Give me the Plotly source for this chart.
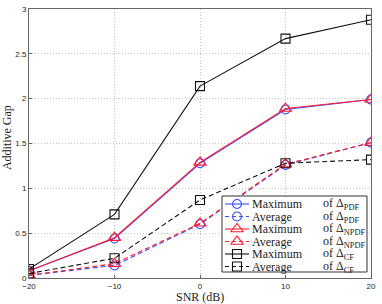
import plotly.graph_objects as go

snr = [-20, -10, 0, 10, 20]
max_pdf = [0.08, 0.44, 1.28, 1.88, 1.99]
avg_pdf = [0.03, 0.14, 0.60, 1.26, 1.51]
max_npdf = [0.08, 0.45, 1.29, 1.89, 1.99]
avg_npdf = [0.03, 0.16, 0.61, 1.27, 1.51]
max_cf = [0.10, 0.71, 2.14, 2.67, 2.88]
avg_cf = [0.05, 0.22, 0.87, 1.28, 1.32]

labels_head = ["Maximum", "Average", "Maximum", "Average", "Maximum", "Average"]
labels_tail = ["of Δ<sub>PDF</sub>", "of Δ<sub>PDF</sub>", "of Δ<sub>NPDF</sub>",
               "of Δ<sub>NPDF</sub>", "of Δ<sub>CF</sub>", "of Δ<sub>CF</sub>"]

BLUE, RED, BLACK = "#3b4cff", "#ff1a2e", "#111111"
DASH = "5px,3px"
series = [
    (max_pdf, BLUE, "circle-open", "solid", 9),
    (avg_pdf, BLUE, "circle-open", DASH, 9),
    (max_npdf, RED, "triangle-up-open", "solid", 11),
    (avg_npdf, RED, "triangle-up-open", DASH, 11),
    (max_cf, BLACK, "square-open", "solid", 9),
    (avg_cf, BLACK, "square-open", DASH, 9),
]

fig = go.Figure()
for i, (ys, col, sym, dash, sz) in enumerate(series):
    fig.add_trace(go.Scatter(
        x=snr, y=ys, name=labels_head[i] + " " + labels_tail[i], mode="lines+markers",
        line=dict(color=col, width=1.1, dash=dash),
        marker=dict(symbol=sym, size=sz, color=col, line=dict(width=1.1, color=col)),
        showlegend=False,
    ))

# custom legend drawn in pixel-like overlay axes
L, R, T, B = 29, 371, 9, 278
bx0, bx1, by0, by1 = 222, 367, 196, 272
fig.add_trace(go.Scatter(
    x=[bx0, bx1, bx1, bx0, bx0], y=[by0, by0, by1, by1, by0],
    xaxis="x2", yaxis="y2", mode="lines", fill="toself", fillcolor="white",
    line=dict(color="#333", width=1), showlegend=False, hoverinfo="skip",
))
row_y = [204, 216.5, 229, 241.5, 254, 266.5]
for i, (ys, col, sym, dash, sz) in enumerate(series):
    yy = row_y[i]
    fig.add_trace(go.Scatter(
        x=[225, 249], y=[yy, yy], xaxis="x2", yaxis="y2", mode="lines",
        line=dict(color=col, width=1.1, dash="4px,3px" if dash != "solid" else "solid"),
        showlegend=False, hoverinfo="skip",
    ))
    fig.add_trace(go.Scatter(
        x=[237], y=[yy], xaxis="x2", yaxis="y2", mode="markers",
        marker=dict(symbol=sym, size=sz, color=col, line=dict(width=1.1, color=col)),
        showlegend=False, hoverinfo="skip",
    ))
    fig.add_annotation(x=251, y=yy, xref="x2", yref="y2", text=labels_head[i],
                       showarrow=False, xanchor="left", yanchor="middle", borderpad=0,
                       font=dict(family="Liberation Serif", size=12, color="#222"))
    fig.add_annotation(x=322, y=yy, xref="x2", yref="y2", text=labels_tail[i],
                       showarrow=False, xanchor="left", yanchor="middle", borderpad=0,
                       font=dict(family="Liberation Serif", size=12, color="#222"))

fig.update_layout(
    width=382, height=304,
    margin=dict(l=L, r=382 - R, t=T, b=304 - B),
    paper_bgcolor="white", plot_bgcolor="white",
    font=dict(family="Liberation Serif", size=11, color="#222"),
    showlegend=False,
    xaxis2=dict(domain=[0, 1], range=[L, R], overlaying="x", visible=False, fixedrange=True),
    yaxis2=dict(domain=[0, 1], range=[B, T], overlaying="y", visible=False, fixedrange=True),
)
fig.layout.xaxis.update(
    range=[-20, 20], tickvals=[-20, -10, 0, 10, 20],
    showgrid=True, gridcolor="#c4c4c4", griddash="1px,2px", gridwidth=1,
    showline=True, linecolor="#666", mirror=True, linewidth=1,
    ticks="inside", ticklen=3, tickcolor="#666",
    tickfont=dict(family="Liberation Sans", size=8, color="#222"),
    zeroline=False, automargin=False,
)
fig.layout.yaxis.update(
    range=[0, 3], tickvals=[0, 0.5, 1, 1.5, 2, 2.5, 3],
    ticktext=["0", "0.5", "1", "1.5", "2", "2.5", "3"],
    showgrid=True, gridcolor="#c4c4c4", griddash="1px,2px", gridwidth=1,
    showline=True, linecolor="#666", mirror=True, linewidth=1,
    ticks="inside", ticklen=3, tickcolor="#666",
    tickfont=dict(family="Liberation Sans", size=8, color="#222"),
    zeroline=False, automargin=False,
)
fig.add_annotation(x=0.5, y=-19 / 269, xref="x domain", yref="y domain", text="SNR (dB)",
                   showarrow=False, xanchor="center", yanchor="middle", borderpad=0,
                   font=dict(family="Liberation Serif", size=12, color="#222"))
fig.add_annotation(x=-22 / 342, y=0.52, xref="x domain", yref="y domain", text="Additive Gap",
                   showarrow=False, textangle=-90, xanchor="center", yanchor="middle", borderpad=0,
                   font=dict(family="Liberation Serif", size=12, color="#222"))
fig.write_html("out.html", config={"displayModeBar": False},
               post_script="document.body.style.margin='0';")
